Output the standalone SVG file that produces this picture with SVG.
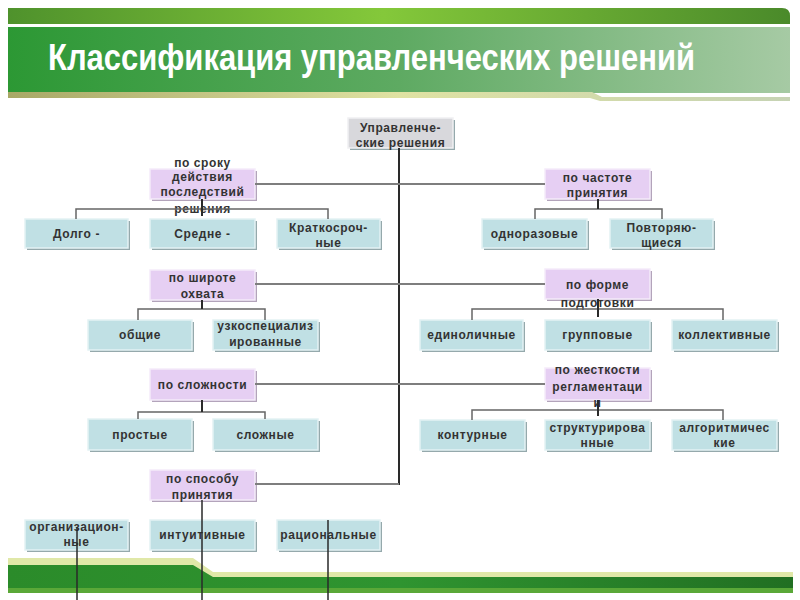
<svg xmlns="http://www.w3.org/2000/svg" width="800" height="600" viewBox="0 0 800 600">
<defs>
<linearGradient id="gTop" x1="0" y1="0" x2="1" y2="0">
<stop offset="0" stop-color="#4f922c"/><stop offset="0.48" stop-color="#84c83a"/><stop offset="1" stop-color="#4a8a2a"/>
</linearGradient>
<linearGradient id="gMain" x1="0" y1="0" x2="1" y2="0">
<stop offset="0" stop-color="#2c9834"/><stop offset="0.5" stop-color="#5eaa62"/><stop offset="1" stop-color="#a6caa4"/>
</linearGradient>
<linearGradient id="gOlive" x1="0" y1="0" x2="1" y2="0">
<stop offset="0" stop-color="#a8a866"/><stop offset="0.5" stop-color="#dfe2a2"/><stop offset="1" stop-color="#c6d3b4"/>
</linearGradient>
<linearGradient id="gFoot" x1="0" y1="0" x2="1" y2="0">
<stop offset="0" stop-color="#2b8b2a"/><stop offset="0.5" stop-color="#2f9430"/><stop offset="1" stop-color="#216f22"/>
</linearGradient>
<style>
.t{font-family:"Liberation Sans",Arial,sans-serif;font-weight:bold;font-size:12px;fill:#333;text-anchor:middle;letter-spacing:0.6px}
.title{font-family:"Liberation Sans",Arial,sans-serif;font-weight:bold;font-size:36px;fill:#fff}
.sh{fill:#95a9ac}
.shc{fill:#b3a4bb}
.child{fill:#c0e0e4;stroke:#e3f2f4;stroke-width:1.5}
.cat{fill:#e6cff3;stroke:#f5ebfa;stroke-width:1.5}
.root{fill:#d8d8dc;stroke:#f0f0f2;stroke-width:1.5}
.dk{stroke:#2a2a2a;stroke-width:2;fill:none}
.hz{stroke:#7e7e7e;stroke-width:2;fill:none}
.bar{stroke:#666;stroke-width:1.5;fill:none}
</style>
</defs>

<g id="header">
<path d="M8 8 H782 Q790 8 790 16 V24 H8 Z" fill="url(#gTop)"/>
<rect x="8" y="27" width="782" height="66" fill="url(#gMain)"/>
<path d="M8 92 H592 L602 97 H790 V101 H600 L590 98 H8 Z" fill="url(#gOlive)"/>
<text class="title" x="48" y="70" textLength="647" lengthAdjust="spacingAndGlyphs">Классификация управленческих решений</text>
</g>

<g id="footer">
<path d="M8 558 H193 L213 572 H793 V577 H8 Z" fill="#e0e8a8"/>
<path d="M8 565 H193 L213 577 H793 V588 H8 Z" fill="url(#gFoot)"/>
<rect x="8" y="588" width="785" height="5" fill="#5aa838"/>
</g>

<g id="n-root">
<rect class="sh" x="350" y="120" width="105" height="30"/>
<rect class="root" x="348" y="118" width="105" height="30"/>
<text class="t" x="400.5" y="132">Управленче-</text>
<text class="t" x="400.5" y="147">ские решения</text>
</g>

<g id="n-srok">
<rect class="shc" x="152" y="171" width="105" height="30"/>
<rect class="cat" x="150" y="169" width="105" height="30"/>
<text class="t" x="202.5" y="167">по сроку</text>
<text class="t" x="202.5" y="181">действия</text>
<text class="t" x="202.5" y="196">последствий</text>
<text class="t" x="202.5" y="213">решения</text>
</g>
<g id="n-dolgo"><rect class="sh" x="27" y="221" width="103" height="29"/><rect class="child" x="25" y="219" width="103" height="29"/><text class="t" x="76.5" y="238">Долго -</text></g>
<g id="n-sredne"><rect class="sh" x="152" y="221" width="105" height="29"/><rect class="child" x="150" y="219" width="105" height="29"/><text class="t" x="202.5" y="238">Средне -</text></g>
<g id="n-kratko"><rect class="sh" x="279" y="221" width="103" height="29"/><rect class="child" x="277" y="219" width="103" height="29"/><text class="t" x="328.5" y="232">Краткосроч-</text><text class="t" x="328.5" y="247">ные</text></g>

<g id="n-chastota">
<rect class="shc" x="547" y="171" width="105" height="30"/>
<rect class="cat" x="545" y="169" width="105" height="30"/>
<text class="t" x="597.5" y="182">по частоте</text>
<text class="t" x="597.5" y="197">принятия</text>
</g>
<g id="n-odnoraz"><rect class="sh" x="484" y="221" width="105" height="29"/><rect class="child" x="482" y="219" width="105" height="29"/><text class="t" x="534.5" y="238">одноразовые</text></g>
<g id="n-povtor"><rect class="sh" x="612" y="221" width="103" height="29"/><rect class="child" x="610" y="219" width="103" height="29"/><text class="t" x="661.5" y="232">Повторяю-</text><text class="t" x="661.5" y="247">щиеся</text></g>

<g id="n-shirota">
<rect class="shc" x="152" y="272" width="105" height="30"/>
<rect class="cat" x="150" y="270" width="105" height="30"/>
<text class="t" x="202.5" y="282">по широте</text>
<text class="t" x="202.5" y="298">охвата</text>
</g>
<g id="n-obshie"><rect class="sh" x="90" y="322" width="104" height="30"/><rect class="child" x="88" y="320" width="104" height="30"/><text class="t" x="140" y="339">общие</text></g>
<g id="n-uzko"><rect class="sh" x="215" y="322" width="105" height="30"/><rect class="child" x="213" y="320" width="105" height="30"/><text class="t" x="265.5" y="330">узкоспециализ</text><text class="t" x="265.5" y="346">ированные</text></g>

<g id="n-forma">
<rect class="shc" x="547" y="271" width="105" height="30"/>
<rect class="cat" x="545" y="269" width="105" height="30"/>
<text class="t" x="597.5" y="289">по форме</text>
<text class="t" x="597.5" y="307">подготовки</text>
</g>
<g id="n-edinol"><rect class="sh" x="422" y="322" width="103" height="30"/><rect class="child" x="420" y="320" width="103" height="30"/><text class="t" x="471.5" y="339">единоличные</text></g>
<g id="n-grupp"><rect class="sh" x="547" y="322" width="105" height="30"/><rect class="child" x="545" y="320" width="105" height="30"/><text class="t" x="597.5" y="339">групповые</text></g>
<g id="n-kollekt"><rect class="sh" x="674" y="322" width="105" height="30"/><rect class="child" x="672" y="320" width="105" height="30"/><text class="t" x="724.5" y="339">коллективные</text></g>

<g id="n-slozhn">
<rect class="shc" x="152" y="371" width="105" height="31"/>
<rect class="cat" x="150" y="369" width="105" height="31"/>
<text class="t" x="202.5" y="389">по сложности</text>
</g>
<g id="n-prostye"><rect class="sh" x="90" y="421" width="104" height="31"/><rect class="child" x="88" y="419" width="104" height="31"/><text class="t" x="140" y="439">простые</text></g>
<g id="n-slozhnye"><rect class="sh" x="215" y="421" width="105" height="31"/><rect class="child" x="213" y="419" width="105" height="31"/><text class="t" x="265.5" y="439">сложные</text></g>

<g id="n-zhestk">
<rect class="shc" x="547" y="370" width="105" height="32"/>
<rect class="cat" x="545" y="368" width="105" height="32"/>
<text class="t" x="597.5" y="374">по жесткости</text>
<text class="t" x="597.5" y="391">регламентаци</text>
<text class="t" x="597.5" y="407">и</text>
</g>
<g id="n-kontur"><rect class="sh" x="422" y="422" width="105" height="30"/><rect class="child" x="420" y="420" width="105" height="30"/><text class="t" x="472.5" y="439">контурные</text></g>
<g id="n-struktur"><rect class="sh" x="547" y="422" width="105" height="30"/><rect class="child" x="545" y="420" width="105" height="30"/><text class="t" x="597.5" y="432">структурирова</text><text class="t" x="597.5" y="447">нные</text></g>
<g id="n-algoritm"><rect class="sh" x="674" y="422" width="105" height="30"/><rect class="child" x="672" y="420" width="105" height="30"/><text class="t" x="724.5" y="432">алгоритмичес</text><text class="t" x="724.5" y="447">кие</text></g>

<g id="n-sposob">
<rect class="shc" x="152" y="472" width="105" height="30"/>
<rect class="cat" x="150" y="470" width="105" height="30"/>
<text class="t" x="202.5" y="483">по способу</text>
<text class="t" x="202.5" y="499">принятия</text>
</g>
<g id="n-organiz"><rect class="sh" x="27" y="522" width="103" height="30"/><rect class="child" x="25" y="520" width="103" height="30"/><text class="t" x="76.5" y="531">организацион-</text><text class="t" x="76.5" y="546">ные</text></g>
<g id="n-intuit"><rect class="sh" x="152" y="522" width="105" height="30"/><rect class="child" x="150" y="520" width="105" height="30"/><text class="t" x="202.5" y="539">интуитивные</text></g>
<g id="n-racion"><rect class="sh" x="279" y="522" width="103" height="30"/><rect class="child" x="277" y="520" width="103" height="30"/><text class="t" x="328.5" y="539">рациональные</text></g>

<g id="connectors">
<path class="dk" d="M399 148 V485"/>
<path class="hz" d="M255 184 H545 M255 284 H545 M255 384 H545 M255 484 H399"/>
<path class="bar" d="M76 219 V209 H328 V219 M535 219 V209 H662 V219 M138 320 V309 H265 V320 M472 320 V309 H723 V320 M138 419 V412 H265 V419 M472 420 V410 H723 V420"/>
<path class="dk" d="M202 199 V216 M598 199 V209 M202 300 V309 M598 299 V317 M202 400 V412 M598 400 V416"/>
<path class="dk" style="stroke-width:1.5" d="M202 500 V600 M77 527 V600 M328 520 V600"/>
</g>
</svg>
